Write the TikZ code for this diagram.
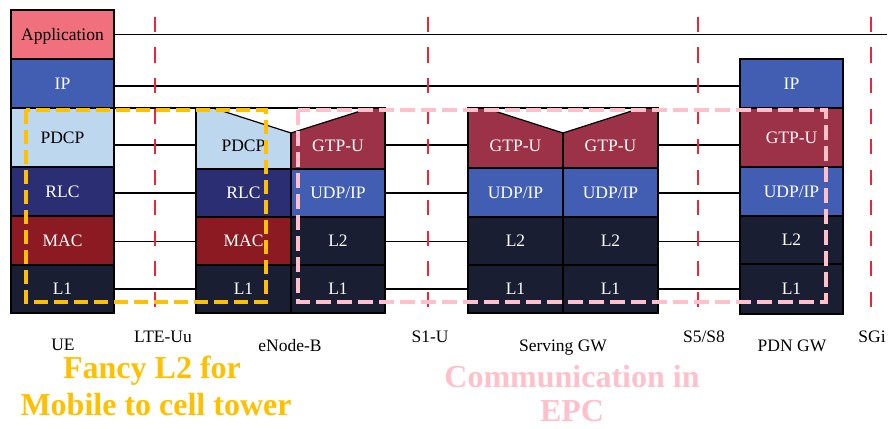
\documentclass[tikz,border=0pt]{standalone}
\usepackage{fontspec}
\setmainfont{Liberation Serif}
\definecolor{appred}{RGB}{240,112,126}
\definecolor{ipblue}{RGB}{65,94,178}
\definecolor{lblue}{RGB}{189,215,238}
\definecolor{rlcblue}{RGB}{44,46,116}
\definecolor{macred}{RGB}{140,26,34}
\definecolor{navy}{RGB}{26,30,50}
\definecolor{gtpred}{RGB}{155,50,72}
\definecolor{orangec}{RGB}{255,192,0}
\definecolor{pinkc}{RGB}{255,192,203}
\definecolor{ifred}{RGB}{232,40,56}
\begin{document}
\begin{tikzpicture}[x=1pt,y=-1pt,
  box/.style={draw=black, line width=1.2pt, inner sep=0pt, outer sep=0pt,
    font=\fontsize{17.5}{20}\selectfont, text=white, text height=11.5pt, text depth=0pt},
  txt/.style={inner sep=0pt, font=\fontsize{17.5}{20}\selectfont, text=white, text height=11.5pt, text depth=0pt},
  conn/.style={draw=black, line width=1.2pt},
  ifc/.style={draw=ifred, line width=2pt, dash pattern=on 15pt off 15.5pt},
  lbl/.style={font=\fontsize{17.5}{20}\selectfont, anchor=base, inner sep=0pt},
  big/.style={font=\fontsize{32}{37}\selectfont\bfseries, anchor=base, inner sep=0pt}]
\useasboundingbox (0,0) rectangle (890,428);
% ---------- UE ----------
\node[box, fill=appred, text=black, minimum width=103pt, minimum height=49pt] (ueapp) at (62.5,34.5) {Application};
\node[box, fill=ipblue, minimum width=103pt, minimum height=49pt] (ueip) at (62.5,83.5) {IP};
\node[box, fill=lblue, text=black, minimum width=103pt, minimum height=59pt] (uepdcp) at (62.5,137.5) {PDCP};
\node[box, fill=rlcblue, minimum width=103pt, minimum height=49pt] (uerlc) at (62.5,191.5) {RLC};
\node[box, fill=macred, minimum width=103pt, minimum height=49pt] (uemac) at (62.5,240.5) {MAC};
\node[box, fill=navy, minimum width=103pt, minimum height=48pt] (uel1) at (62.5,289) {L1};
% ---------- eNode-B ----------
\node[box, fill=lblue, minimum width=95pt, minimum height=61pt] (enbpdcp) at (243.5,138.5) {};
\node[box, fill=gtpred, minimum width=94pt, minimum height=61pt] (enbgtp) at (338,138.5) {};
\fill[white] (213,108) -- (291,133) -- (370,108) -- cycle;
\draw[conn] (enbpdcp.north west) -- (enbgtp.north east);
\draw[conn] (213,108) -- (291,133) -- (370,108);
\node[txt, text=black] (enbpdcpt) at (243.5,146) {PDCP};
\node[txt] (enbgtpt) at (338,146) {GTP-U};
\node[box, fill=rlcblue, minimum width=95pt, minimum height=48pt] (enbrlc) at (243.5,193) {RLC};
\node[box, fill=macred, minimum width=95pt, minimum height=48pt] (enbmac) at (243.5,241) {MAC};
\node[box, fill=navy, minimum width=95pt, minimum height=48pt] (enbl1a) at (243.5,289) {L1};
\node[box, fill=ipblue, minimum width=94pt, minimum height=48pt] (enbudp) at (338,193) {UDP/IP};
\node[box, fill=navy, minimum width=94pt, minimum height=48pt] (enbl2) at (338,241) {L2};
\node[box, fill=navy, minimum width=94pt, minimum height=48pt] (enbl1b) at (338,289) {L1};
% ---------- Serving GW ----------
\node[box, fill=gtpred, minimum width=95pt, minimum height=60pt] (sgwgtpa) at (515.5,138) {};
\node[box, fill=gtpred, minimum width=95pt, minimum height=60pt] (sgwgtpb) at (610.5,138) {};
\fill[white] (485,108) -- (563,133) -- (641,108) -- cycle;
\draw[conn] (sgwgtpa.north west) -- (sgwgtpb.north east);
\draw[conn] (485,108) -- (563,133) -- (641,108);
\node[txt] (sgwgtpat) at (515.5,146) {GTP-U};
\node[txt] (sgwgtpbt) at (610.5,146) {GTP-U};
\node[box, fill=ipblue, minimum width=95pt, minimum height=49pt] (sgwudpa) at (515.5,192.5) {UDP/IP};
\node[box, fill=ipblue, minimum width=95pt, minimum height=49pt] (sgwudpb) at (610.5,192.5) {UDP/IP};
\node[box, fill=navy, minimum width=95pt, minimum height=48pt] (sgwl2a) at (515.5,241) {L2};
\node[box, fill=navy, minimum width=95pt, minimum height=48pt] (sgwl2b) at (610.5,241) {L2};
\node[box, fill=navy, minimum width=95pt, minimum height=48pt] (sgwl1a) at (515.5,289) {L1};
\node[box, fill=navy, minimum width=95pt, minimum height=48pt] (sgwl1b) at (610.5,289) {L1};
% ---------- PDN GW ----------
\node[box, fill=ipblue, minimum width=103pt, minimum height=49pt] (pdnip) at (791.5,83.5) {IP};
\node[box, fill=gtpred, minimum width=103pt, minimum height=59pt] (pdngtp) at (791.5,137.5) {GTP-U};
\node[box, fill=ipblue, minimum width=103pt, minimum height=49pt] (pdnudp) at (791.5,191.5) {UDP/IP};
\node[box, fill=navy, minimum width=103pt, minimum height=48pt] (pdnl2) at (791.5,240) {L2};
\node[box, fill=navy, minimum width=103pt, minimum height=50pt] (pdnl1) at (791.5,289) {L1};
% ---------- connectors ----------
\coordinate (append) at (887,34.5);
\coordinate (yIP) at (0,86);
\coordinate (yPD) at (0,145);
\coordinate (yRL) at (0,193);
\coordinate (yMA) at (0,241.5);
\coordinate (yL1) at (0,289);
\draw[conn] (ueapp.east) -- (append);
\draw[conn] (ueip.east |- yIP) -- (pdnip.west |- yIP);
\draw[conn] (ueip.south east) -- (enbpdcp.north west);
\draw[conn] (uepdcp.east |- yPD) -- (enbpdcp.west |- yPD);
\draw[conn] (uerlc.east |- yRL) -- (enbrlc.west |- yRL);
\draw[conn] (uemac.east |- yMA) -- (enbmac.west |- yMA);
\draw[conn] (uel1.east |- yL1) -- (enbl1a.west |- yL1);
\draw[conn] (enbgtp.east |- yPD) -- (sgwgtpa.west |- yPD);
\draw[conn] (enbudp.east |- yRL) -- (sgwudpa.west |- yRL);
\draw[conn] (enbl2.east |- yMA) -- (sgwl2a.west |- yMA);
\draw[conn] (enbl1b.east |- yL1) -- (sgwl1a.west |- yL1);
\draw[conn] (sgwgtpb.east |- yPD) -- (pdngtp.west |- yPD);
\draw[conn] (sgwudpb.east |- yRL) -- (pdnudp.west |- yRL);
\draw[conn] (sgwl2b.east |- yMA) -- (pdnl2.west |- yMA);
\draw[conn] (sgwl1b.east |- yL1) -- (pdnl1.west |- yL1);
% ---------- interface dividers ----------
\draw[ifc] (155,17) -- (155,310);
\draw[ifc] (428,17) -- (428,310);
\draw[ifc] (698,17) -- (698,310);
\draw[ifc] (871,17) -- (871,310);
% ---------- highlight boxes ----------
\draw[draw=orangec, line width=4.5pt, dash pattern=on 14pt off 6pt] (26,110) rectangle (266,302);
\draw[draw=pinkc, line width=4.5pt, dash pattern=on 15pt off 6pt] (298,110) rectangle (826,302);
% ---------- labels ----------
\node[lbl] (lue) at (63,350) {UE};
\node[lbl] (llte) at (163,342) {LTE-Uu};
\node[lbl] (lenb) at (290,351) {eNode-B};
\node[lbl] (ls1) at (430,342) {S1-U};
\node[lbl] (lsgw) at (563,351) {Serving GW};
\node[lbl] (ls5) at (704,342) {S5/S8};
\node[lbl] (lpdn) at (792,351) {PDN GW};
\node[lbl] (lsgi) at (872,342) {SGi};
\node[big, text=orangec] (fancy1) at (152,378) {Fancy L2 for};
\node[big, text=orangec] (fancy2) at (156,415) {Mobile to cell tower};
\node[big, text=pinkc] (epc1) at (572,387) {Communication in};
\node[big, text=pinkc] (epc2) at (572,421) {EPC};
\end{tikzpicture}
\end{document}
